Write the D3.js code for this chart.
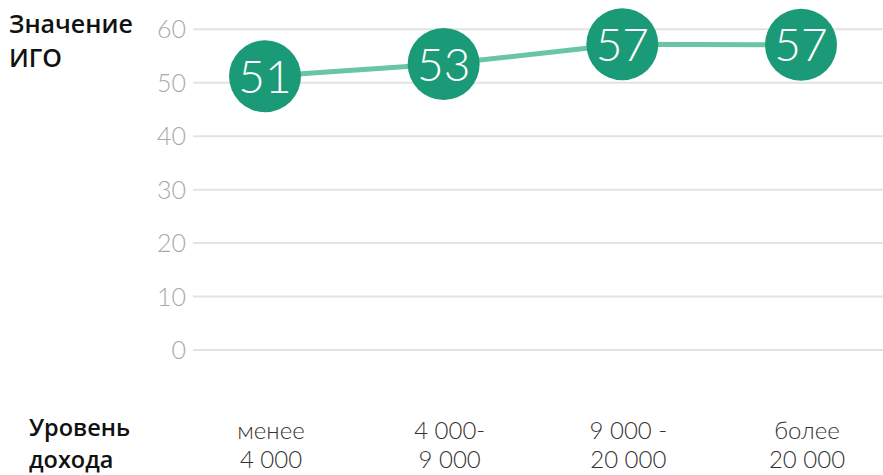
<!DOCTYPE html>
<html>
<head>
<meta charset="utf-8">
<script src="https://cdn.jsdelivr.net/npm/d3@7"></script>
<style>
  body { margin: 0; background: #fff; }
  svg { display: block; }
</style>
</head>
<body>
<svg></svg>
<script>
var width = 883, height = 475;

// data
var categories = ['менее 4 000', '4 000- 9 000', '9 000 - 20 000', 'более 20 000'];
var categoryLines = [['менее', '4 000'], ['4 000-', '9 000'], ['9 000 -', '20 000'], ['более', '20 000']];
var values = [51.2, 53.5, 57.2, 57.1];
var valueLabels = ['51', '53', '57', '57'];
var yTicks = [0, 10, 20, 30, 40, 50, 60];

var svg = d3.select('svg')
    .attr('width', width)
    .attr('height', height);

var x = d3.scalePoint()
    .domain(categories)
    .range([265, 801]);

var y = d3.scaleLinear()
    .domain([0, 60])
    .range([350, 29.3]);

// grid
svg.append('g')
    .selectAll('line')
    .data(yTicks)
    .enter()
    .append('line')
        .attr('x1', 193)
        .attr('x2', width)
        .attr('y1', d => y(d))
        .attr('y2', d => y(d))
        .attr('stroke', '#e3e3e3')
        .attr('stroke-width', 2);

// y tick labels
svg.append('g')
    .selectAll('text')
    .data(yTicks)
    .enter()
    .append('text')
        .attr('x', 186)
        .attr('y', d => y(d))
        .attr('dy', '0.36em')
        .attr('text-anchor', 'end')
        .attr('font-family', 'Lato, sans-serif')
        .attr('font-weight', 300)
        .attr('font-size', 25)
        .attr('fill', '#a9a9a9')
        .text(d => d);

// y title (two lines)
svg.append('g')
    .selectAll('text')
    .data(['Значение', 'ИГО'])
    .enter()
    .append('text')
        .attr('x', 9)
        .attr('y', (d, i) => 33 + i * 34)
        .attr('font-family', '"Open Sans", sans-serif')
        .attr('font-weight', 600)
        .attr('font-size', 25)
        .attr('fill', '#111')
        .text(d => d);

// line
var line = d3.line()
    .x((d, i) => x(categories[i]))
    .y(d => y(d));

svg.append('path')
    .datum(values)
    .attr('d', line)
    .attr('fill', 'none')
    .attr('stroke', '#68c5a5')
    .attr('stroke-width', 5);

// points
var pts = svg.append('g')
    .selectAll('g')
    .data(values)
    .enter()
    .append('g')
        .attr('transform', (d, i) => `translate(${x(categories[i])},${y(d)})`);

pts.append('circle')
    .attr('r', 36)
    .attr('fill', '#1b9a77');

pts.append('text')
    .attr('text-anchor', 'middle')
    .attr('dy', '0.36em')
    .attr('font-family', 'Lato, sans-serif')
    .attr('font-weight', 300)
    .attr('font-size', 46)
    .attr('fill', '#fff')
    .text((d, i) => valueLabels[i]);

// x title (two lines)
svg.append('g')
    .selectAll('text')
    .data(['Уровень', 'дохода'])
    .enter()
    .append('text')
        .attr('x', 29)
        .attr('y', (d, i) => 436 + i * 32)
        .attr('font-family', '"Open Sans", sans-serif')
        .attr('font-weight', 600)
        .attr('font-size', 23.5)
        .attr('fill', '#111')
        .text(d => d);

// category labels
svg.append('g')
    .selectAll('text')
    .data(categories)
    .enter()
    .append('text')
        .attr('text-anchor', 'middle')
        .attr('font-family', 'Lato, sans-serif')
        .attr('font-weight', 300)
        .attr('font-size', 24)
        .attr('fill', '#333')
        .each(function(d, i) {
            d3.select(this)
                .selectAll('tspan')
                .data(categoryLines[i])
                .enter()
                .append('tspan')
                    .attr('x', x(d) + 6)
                    .attr('y', (t, j) => 439 + j * 29)
                    .text(t => t);
        });
</script>
</body>
</html>
